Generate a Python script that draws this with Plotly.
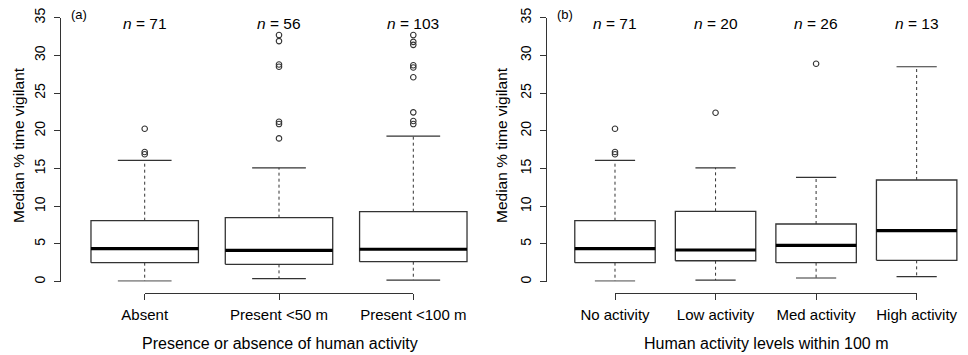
import plotly.graph_objects as go

# ---------------- data ----------------
cats_a = ["Absent", "Present <50 m", "Present <100 m"]
n_a = [71, 56, 103]
lower_a = [0.09, 0.40, 0.22]
q1_a = [2.52, 2.30, 2.65]
med_a = [4.38, 4.16, 4.30]
q3_a = [8.09, 8.49, 9.28]
upper_a = [16.09, 15.10, 19.30]
outliers_a = [
    [16.9, 17.2, 20.28],
    [19.0, 20.9, 21.2, 28.5, 28.8, 31.9, 32.7],
    [20.9, 21.3, 22.45, 27.1, 28.4, 28.7, 31.4, 31.8, 32.7],
]

cats_b = ["No activity", "Low activity", "Med activity", "High activity"]
n_b = [71, 20, 26, 13]
lower_b = [0.09, 0.22, 0.49, 0.66]
q1_b = [2.52, 2.78, 2.52, 2.83]
med_b = [4.38, 4.20, 4.82, 6.76]
q3_b = [8.09, 9.33, 7.65, 13.48]
upper_b = [16.09, 15.10, 13.84, 28.50]
outliers_b = [
    [16.9, 17.2, 20.28],
    [22.4],
    [28.9],
    [],
]

y_ticks = [0, 5, 10, 15, 20, 25, 30, 35]

# ---------------- layout helpers ----------------
W, H = 968, 355
FONT = "Liberation Sans, Arial, sans-serif"
LINE = "#333333"
TXT = "#000000"


def fx(p):
    return p / W


def fy(p):
    return 1 - p / H


fig = go.Figure()


def add_panel(xa, xb, ya, cats, lower, q1, med, q3, upper, outs):
    bx, by, mx, my, wx, wy, cx, cy, ox, oy = [], [], [], [], [], [], [], [], [], []
    hw, cw = 0.4, 0.2
    for i in range(len(cats)):
        c = i + 1
        bx += [c - hw, c + hw, c + hw, c - hw, c - hw, None]
        by += [q1[i], q1[i], q3[i], q3[i], q1[i], None]
        mx += [c - hw, c + hw, None]
        my += [med[i], med[i], None]
        wx += [c, c, None, c, c, None]
        wy += [q3[i], upper[i], None, q1[i], lower[i], None]
        cx += [c - cw, c + cw, None, c - cw, c + cw, None]
        cy += [upper[i], upper[i], None, lower[i], lower[i], None]
        for v in outs[i]:
            ox.append(c)
            oy.append(v)
    common = dict(xaxis=xa, yaxis=ya, showlegend=False, hoverinfo="skip", cliponaxis=False)
    fig.add_trace(go.Scatter(x=wx, y=wy, mode="lines",
                             line=dict(color=LINE, width=1, dash="3px,3px"), **common))
    fig.add_trace(go.Scatter(x=cx, y=cy, mode="lines",
                             line=dict(color=LINE, width=1.2), **common))
    fig.add_trace(go.Scatter(x=bx, y=by, mode="lines", fill="toself", fillcolor="white",
                             line=dict(color=LINE, width=1.3), **common))
    fig.add_trace(go.Scatter(x=mx, y=my, mode="lines",
                             line=dict(color="black", width=3.2), **common))
    fig.add_trace(go.Scatter(x=ox, y=oy, mode="markers",
                             marker=dict(symbol="circle-open", size=5.5, color=LINE,
                                         line=dict(width=1.1)), **common))
    # invisible trace so the bracket axis is drawn
    fig.add_trace(go.Scatter(x=[1, len(cats)], y=[None, None], mode="markers",
                             xaxis=xb, yaxis=ya, showlegend=False, hoverinfo="skip"))


add_panel("x", "x3", "y", cats_a, lower_a, q1_a, med_a, q3_a, upper_a, outliers_a)
add_panel("x2", "x4", "y2", cats_b, lower_b, q1_b, med_b, q3_b, upper_b, outliers_b)

ydom = [fy(281.7), fy(17.7)]
yax = dict(range=[0, 35], domain=ydom, showline=True, linecolor=LINE, linewidth=1.2,
           ticks="outside", ticklen=6, tickcolor=LINE, tickwidth=1.2, automargin=False,
           tickvals=y_ticks, tickangle=-90, showgrid=False, zeroline=False,
           tickfont=dict(family=FONT, size=14, color=TXT), ticklabelstandoff=4)

# left panel geometry
a_c1, a_sp = 144.7, 134.3
a_l, a_r = 61.4, 496.6
# right panel geometry
b_c1, b_sp = 615.0, 100.55
b_l, b_r = 547.3, 968.0

hidden = dict(visible=False, showgrid=False, zeroline=False, automargin=False)
bracket = dict(showline=True, linecolor=LINE, linewidth=1.2, ticks="outside", ticklen=6,
               tickcolor=LINE, tickwidth=1.2, anchor="free", position=fy(292.7),
               showgrid=False, zeroline=False, automargin=False, ticklabelstandoff=2,
               tickfont=dict(family=FONT, size=15, color=TXT))

fig.update_layout(
    width=W, height=H, margin=dict(l=0, r=0, t=0, b=0, autoexpand=False),
    paper_bgcolor="white", plot_bgcolor="rgba(0,0,0,0)",
    xaxis=dict(domain=[fx(a_l), fx(a_r)],
               range=[1 - (a_c1 - a_l) / a_sp, 1 + (a_r - a_c1) / a_sp],
               anchor="y", **hidden),
    xaxis2=dict(domain=[fx(b_l), fx(b_r)],
                range=[1 - (b_c1 - b_l) / b_sp, 1 + (b_r - b_c1) / b_sp],
                anchor="y2", **hidden),
    xaxis3=dict(domain=[fx(a_c1), fx(a_c1 + 2 * a_sp)], range=[1, 3],
                tickvals=[1, 2, 3], ticktext=cats_a, **bracket),
    xaxis4=dict(domain=[fx(b_c1), fx(b_c1 + 3 * b_sp)], range=[1, 4],
                tickvals=[1, 2, 3, 4], ticktext=cats_b, **bracket),
    yaxis=dict(anchor="x", **yax),
    yaxis2=dict(anchor="x2", **yax),
)

ann = []
nfont = dict(family=FONT, size=15.5, color=TXT)
for i, n in enumerate(n_a):
    ann.append(dict(x=i + 1, xref="x", y=fy(23), yref="paper", xanchor="center",
                    yanchor="middle", text=f"<i>n</i> = {n}", showarrow=False, font=nfont))
for i, n in enumerate(n_b):
    ann.append(dict(x=i + 1, xref="x2", y=fy(23), yref="paper", xanchor="center",
                    yanchor="middle", text=f"<i>n</i> = {n}", showarrow=False, font=nfont))
ann.append(dict(x=fx(69), y=fy(15), xref="paper", yref="paper", text="(a)",
                showarrow=False, xanchor="left", yanchor="middle",
                font=dict(family=FONT, size=13, color=TXT)))
ann.append(dict(x=fx(555), y=fy(15), xref="paper", yref="paper", text="(b)",
                showarrow=False, xanchor="left", yanchor="middle",
                font=dict(family=FONT, size=13, color=TXT)))
for xp in (18, 501):
    ann.append(dict(x=fx(xp), y=fy(145), xref="paper", yref="paper",
                    xanchor="center", yanchor="middle",
                    text="Median % time vigilant", textangle=-90, showarrow=False,
                    font=dict(family=FONT, size=15.5, color=TXT)))
ann.append(dict(x=fx(280), y=fy(343), xref="paper", yref="paper",
                xanchor="center", yanchor="middle",
                text="Presence or absence of human activity", showarrow=False,
                font=dict(family=FONT, size=16, color=TXT)))
ann.append(dict(x=fx(766.5), y=fy(343), xref="paper", yref="paper",
                xanchor="center", yanchor="middle",
                text="Human activity levels within 100 m", showarrow=False,
                font=dict(family=FONT, size=16, color=TXT)))
fig.update_layout(annotations=ann)

fig.write_html("out.html")
